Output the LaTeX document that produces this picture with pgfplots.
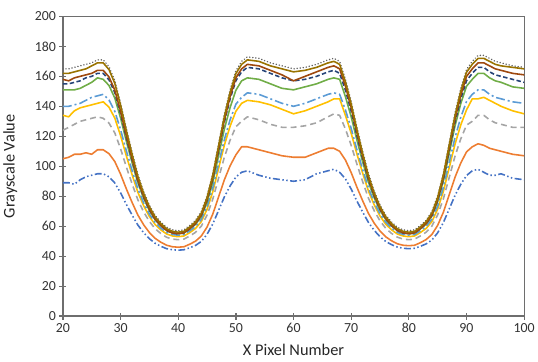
\documentclass[border=0pt]{standalone}
\usepackage{fontspec}
\setmainfont{Carlito}
\usepackage{pgfplots}
\usepackage{pgfplotstable}
\pgfplotsset{compat=1.18}

\definecolor{axisgray}{HTML}{6E6E6E}
\definecolor{c1}{HTML}{4472C4}
\definecolor{c2}{HTML}{ED7D31}
\definecolor{c3}{HTML}{A5A5A5}
\definecolor{c4}{HTML}{FFC000}
\definecolor{c5}{HTML}{5B9BD5}
\definecolor{c6}{HTML}{70AD47}
\definecolor{c7}{HTML}{264478}
\definecolor{c8}{HTML}{9E480E}
\definecolor{c9}{HTML}{636363}
\definecolor{c10}{HTML}{997300}

% grayscale profiles along the pixel row, one column per trace
\pgfplotstableread{
x   s1    s2    s3    s4    s5    s6    s7    s8    s9    s10
20  89    105   124   134   140   151   155   158   165   162
21  89    106   126   133   140   151   155   157   165   162
22  88    108   128   137   141   151   156   159   166   163
23  91    108   130   139   142   152   157   160   167   164
24  93    109   131   140   144   154   159   161   168   165
25  94    108   132   141   146   156   160   162   169   167
26  95    111   133   142   147   159   162   164   171   169
27  95    111   132   143   148   158   162   164   171   169
28  93    108.4 128.8 139.4 144.2 153.9 157.7 159.6 166.4 164.5
29  88.9  103.2 122.3 132.2 136.7 145.6 149.2 150.9 157.3 155.4
30  82.3  94.8  111.8 120.5 124.5 132.3 135.3 136.8 142.5 140.8
31  74.6  85    99.6  107   110.4 116.8 119.2 120.4 125.4 123.8
32  67.5  75.9  88.3  94.4  97.2  102.4 104.2 105.1 109.4 108
33  60.8  67.5  77.7  82.7  85    89    90.3  91    94.6  93.3
34  55.7  61    69.6  73.7  75.6  78.7  79.6  80.1  83.2  82
35  51.7  55.8  63.2  66.5  68.1  70.5  71    71.4  74.1  73
36  48.6  51.9  58.3  61.1  62.5  64.3  64.6  64.8  67.3  66.2
37  46.6  49.3  55.1  57.5  58.7  60.2  60.4  60.5  62.7  61.7
38  45    47.3  52.6  54.8  55.9  57.1  57.1  57.2  59.3  58.3
39  44.3  46.3  51.4  53.5  54.5  55.5  55.5  55.5  57.6  56.6
40  44    46    51    53    54    55    55    55    57    56
41  44.3  46.3  51.4  53.5  54.5  55.5  55.6  55.6  57.6  56.6
42  45.6  48    53.5  55.7  56.9  58.1  58.3  58.4  60.5  59.5
43  47.2  50    55.9  58.5  59.7  61.2  61.7  61.8  64    62.9
44  49.8  53.4  60    63    64.5  66.4  67.2  67.4  69.8  68.7
45  54.6  59.4  67.4  71.2  73    75.8  77.2  77.6  80.2  79
46  61.5  68.1  78.1  83    85.4  89.3  91.6  92.3  95.3  94
47  70.5  79.5  92    98.5  101.5 107   110.5 111.5 115   113.5
48  79.5  90.9  106   114   117.7 124.7 129.4 130.7 134.7 133
49  86.9  100.3 117.4 126.7 131   139.2 144.9 146.5 151   149.2
50  92.8  107.6 126.4 136.7 141.4 150.7 157.1 159   163.7 161.8
51  96    113   130   142   146   157   163   165   170   168
52  97    113   133   144   149   159   166   168   173   171
54  94    111   131   143   148   158   165   167   172   170
56  92    109   128   141   145   155   162   164   169   167
58  91    107   126   138   142   152   159   161   167   165
60  90    106   126   135   140   151   157   157   165   163
62  91    106   127   137   142   153   158   160   166   164
64  95    109   129   140   145   155   160   163   168   166
66  97    112   133   143   148   158   163   166   171   169
67  98    112   135   145   149   159   164   167   172   170
68  96    110   134   145   148   158   162   165   170   168
69  91.6  104.2 124.9 134   137.6 146.5 150.9 153.6 158.2 156.3
70  84.8  95.8  114   122   125.3 133   136.8 139   143.3 141.5
71  76.8  86    101.4 108.2 111   117.4 120.4 122.2 126   124.4
72  69.4  76.9  89.6  95.3  97.7  102.8 105.1 106.5 109.9 108.4
73  62.5  68.5  78.7  83.4  85.4  89.3  91    92    95    93.6
74  57.2  62    70.3  74.2  75.9  78.9  80.1  80.8  83.5  82.2
75  53    56.8  63.6  66.8  68.3  70.6  71.4  71.8  74.3  73.1
76  49.8  52.9  58.6  61.3  62.6  64.4  64.8  65.1  67.4  66.3
77  47.7  50.3  55.2  57.6  58.8  60.2  60.5  60.6  62.8  61.7
78  46.1  48.3  52.7  54.8  55.9  57.1  57.2  57.2  59.3  58.3
79  45.3  47.3  51.4  53.5  54.5  55.5  55.5  55.6  57.6  56.6
80  45    47    51    53    54    55    55    55    57    56
81  45.3  47.3  51.4  53.5  54.5  55.5  55.6  55.6  57.6  56.6
82  46.6  49    53.5  55.8  56.9  58.2  58.3  58.4  60.5  59.5
83  48.2  51.1  56    58.5  59.8  61.4  61.7  61.8  64    63
84  50.8  54.5  60.1  63.1  64.7  66.8  67.2  67.5  69.9  68.8
85  55.6  60.6  67.6  71.4  73.4  76.4  77.2  77.8  80.4  79.2
86  62.5  69.4  78.4  83.4  86    90.3  91.6  92.6  95.6  94.3
87  71.5  81    92.5  99    102.5 108.5 110.5 112   115.5 114
88  80.5  92.6  106.6 114.6 119   126.7 129.4 131.4 135.4 133.7
89  87.9  102.1 118.2 127.5 132.6 141.7 144.9 147.3 151.8 150
90  93.8  109.6 127.4 137.6 143.2 153.4 157.1 159.9 164.6 162.7
91  97    113   130   145   148   158   162   165   170   168
92  98    115   134   145   151   162   166   169   174   172
93  96    114   134   146   151   162   166   169   174   172
94  94    112   131   144   148   159   163   167   172   170
95  94    111   129   142   146   157   161   165   170   168
96  95    110   128   140   145   156   160   164   169   167
98  92    108   126   137   143   153   158   162   167   166
100 91    107   126   135   142   152   156   161   166   165
}\profiles

\begin{document}
\begin{tikzpicture}
\begin{axis}[
  at={(0,0)}, anchor=south west,
  scale only axis, width=464bp, height=301.5bp,
  xmin=20, xmax=100, ymin=0, ymax=200,
  xtick={20,30,...,100}, ytick={0,20,...,200},
  xtick pos=lower, ytick pos=left,
  tick align=center, major tick length=7bp,
  axis line style={line width=1.3pt, color=axisgray},
  tick style={line width=1.3pt, color=axisgray},
  /pgf/number format/assume math mode=true,
  ticklabel style={font=\fontsize{14}{16}\selectfont, text=black!80},
  xlabel={X Pixel Number}, ylabel={Grayscale Value},
  label style={font=\fontsize{16.5}{18}\selectfont, text=black!85},
  xlabel style={at={(axis description cs:0.5,-0.113)}, anchor=center},
  ylabel style={at={(axis description cs:-0.114,0.5)}, anchor=center},
  every axis plot/.append style={line width=1.6pt, line join=round},
]
\addplot[c1, dash pattern=on 7pt off 2.5pt on 1.5pt off 2.5pt on 1.5pt off 2.5pt] table[x=x, y=s1] {\profiles};
\addplot[c2] table[x=x, y=s2] {\profiles};
\addplot[c3, dash pattern=on 6pt off 4pt] table[x=x, y=s3] {\profiles};
\addplot[c4] table[x=x, y=s4] {\profiles};
\addplot[c5, dash pattern=on 9pt off 3pt on 2pt off 3pt] table[x=x, y=s5] {\profiles};
\addplot[c6] table[x=x, y=s6] {\profiles};
\addplot[c7, dash pattern=on 4.5pt off 2.5pt] table[x=x, y=s7] {\profiles};
\addplot[c8] table[x=x, y=s8] {\profiles};
\addplot[c9, line cap=round, dash pattern=on 0.1pt off 3pt] table[x=x, y=s9] {\profiles};
\addplot[c10] table[x=x, y=s10] {\profiles};
\end{axis}
\path[use as bounding box] (-63bp,-46bp) rectangle (475bp,318bp);
\end{tikzpicture}
\end{document}
